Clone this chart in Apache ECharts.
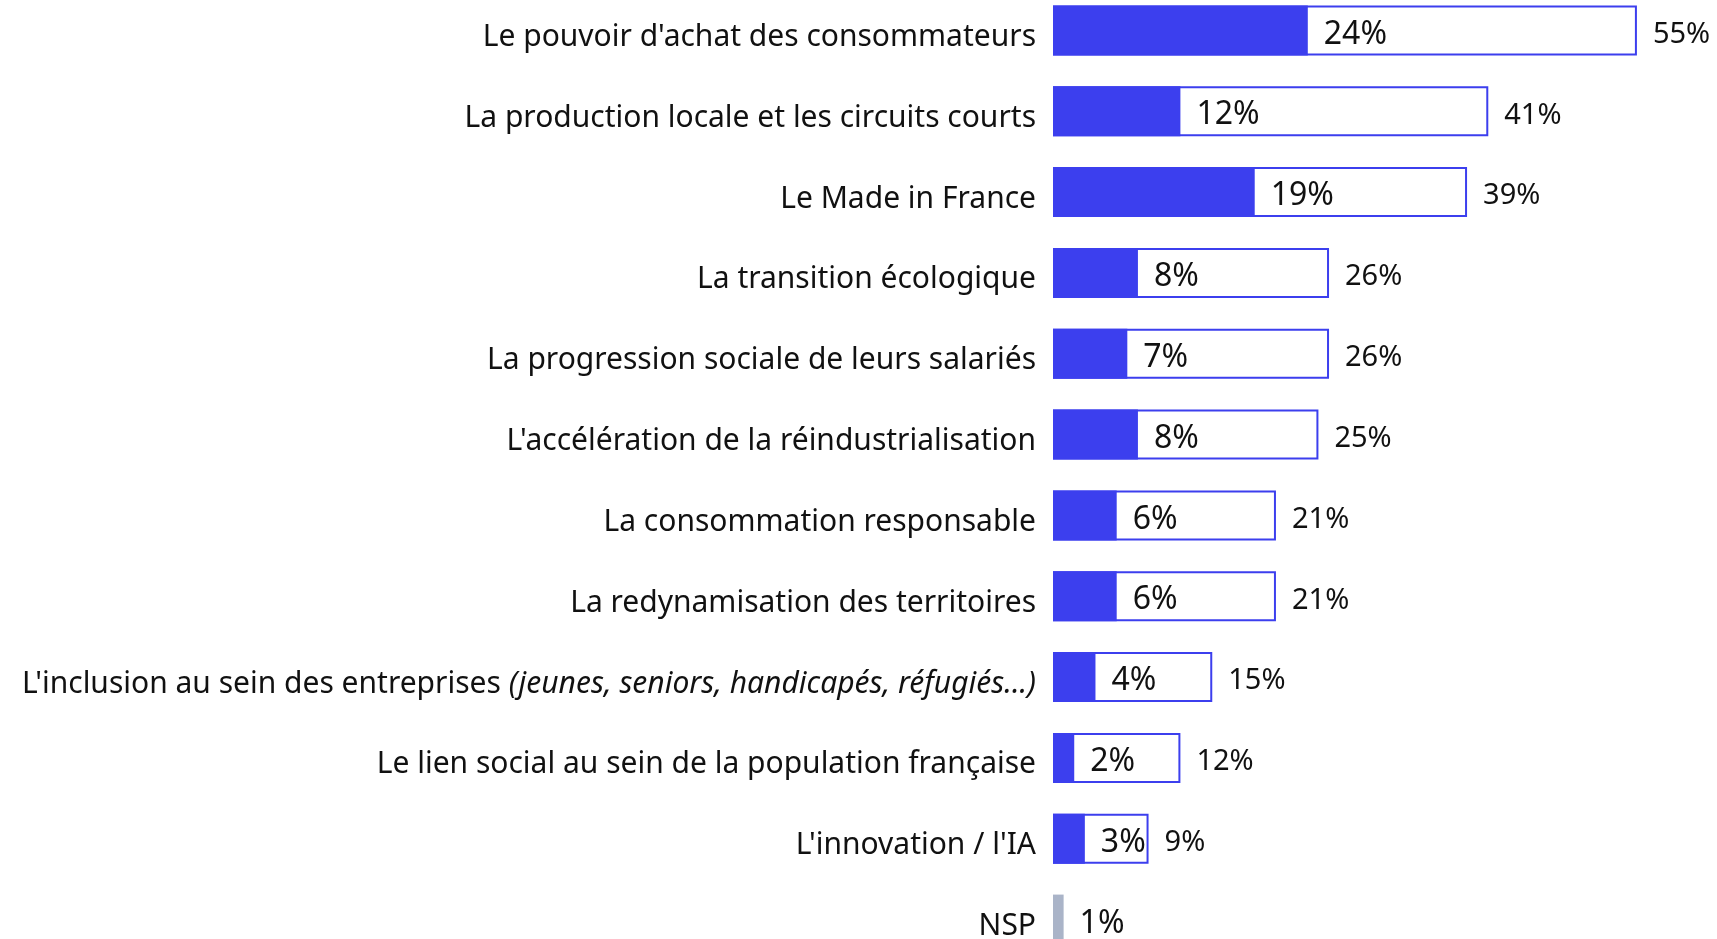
<!DOCTYPE html>
<html>
<head>
<meta charset="utf-8">
<script src="https://cdn.jsdelivr.net/npm/echarts@6/dist/echarts.min.js"></script>
<style>
  html, body { margin: 0; padding: 0; background: #fff; }
  #chart { width: 1717px; height: 939px; }
</style>
</head>
<body>
<div id="chart"></div>
<script>
// catégories, de haut en bas
var categories = [
  "Le pouvoir d'achat des consommateurs",
  "La production locale et les circuits courts",
  "Le Made in France",
  "La transition écologique",
  "La progression sociale de leurs salariés",
  "L'accélération de la réindustrialisation",
  "La consommation responsable",
  "La redynamisation des territoires",
  "L'inclusion au sein des entreprises (jeunes, seniors, handicapés, réfugiés...)",
  "Le lien social au sein de la population française",
  "L'innovation / l'IA",
  "NSP"
];
// en premier
var firstValues = [24, 12, 19, 8, 7, 8, 6, 6, 4, 2, 3, 1];
// total des citations (NSP n'a pas de total)
var totalValues = [55, 41, 39, 26, 26, 25, 21, 21, 15, 12, 9, null];

var BLUE = "#3c3fee";
var GREY = "#aab4c8";
var FONT = "Noto Sans";

var chart = echarts.init(document.getElementById("chart"), null, { renderer: "canvas" });

var option = {
  animation: false,
  backgroundColor: "#fff",
  grid: {
    left: 1053, top: -10, width: 637, height: 970,
    containLabel: false,
    outerBoundsMode: "none"
  },
  xAxis: {
    type: "value",
    min: 0,
    max: 60,
    show: false
  },
  yAxis: {
    type: "category",
    inverse: true,
    data: categories,
    axisLine: { show: false },
    axisTick: { show: false },
    axisLabel: {
      margin: 17,
      padding: [14, 0, 0, 0],
      fontFamily: FONT,
      fontSize: 30,
      color: "#111",
      formatter: function (v) {
        var i = v.indexOf(" (");
        if (i < 0) return v;
        return v.slice(0, i + 1) + "{it|" + v.slice(i + 1) + "}";
      },
      rich: {
        it: { fontStyle: "italic", fontFamily: FONT, fontSize: 30, color: "#111" }
      }
    }
  },
  series: [
    {
      name: "Total",
      type: "bar",
      data: totalValues,
      barWidth: 50,
      z: 1,
      itemStyle: { color: "#fff", borderColor: BLUE, borderWidth: 2 },
      label: {
        show: true,
        position: "right",
        distance: 16,
        offset: [0, 4],
        fontFamily: FONT,
        fontSize: 29,
        color: "#111",
        formatter: "{c}%"
      }
    },
    {
      name: "En premier",
      type: "bar",
      data: firstValues.map(function (v, i) {
        return categories[i] === "NSP"
          ? { value: v, itemStyle: { color: GREY } }
          : v;
      }),
      barWidth: 50,
      barGap: "-100%",
      z: 2,
      itemStyle: { color: BLUE },
      label: {
        show: true,
        position: "right",
        distance: 16,
        offset: [0, 4],
        fontFamily: FONT,
        fontSize: 32,
        color: "#111",
        formatter: "{c}%"
      }
    }
  ]
};

chart.setOption(option);
</script>
</body>
</html>
